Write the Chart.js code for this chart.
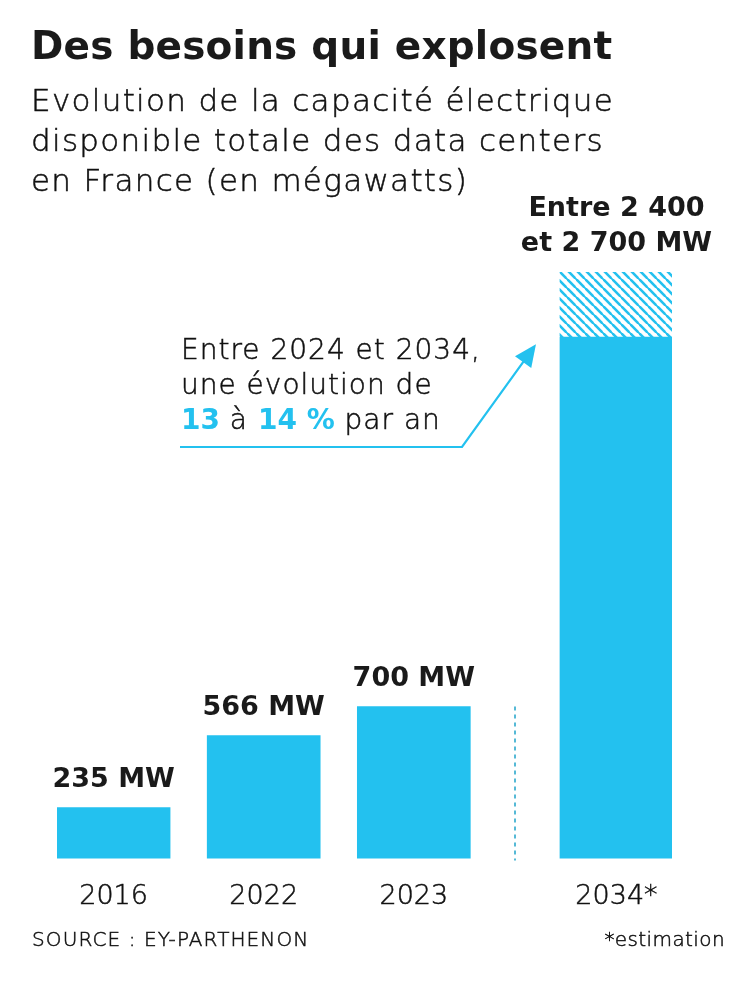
<!DOCTYPE html>
<html>
<head>
<meta charset="utf-8">
<script src="https://cdn.jsdelivr.net/npm/chart.js@4"></script>
<style>
  body { margin: 0; background: #fff; }
  #wrap { position: relative; width: 750px; height: 985px; overflow: hidden; }
  #myChart { position: absolute; left: 0; top: 0; }
  .txt { position: absolute; font-family: "DejaVu Sans", sans-serif; color: #1a1a1a; white-space: nowrap; }
  .fin { font-weight: 200; color: #111; -webkit-text-stroke: 0.5px #111; }
  #titre { left: 31px; top: 23px; font-size: 39px; font-weight: 700; letter-spacing: 0.2px; }
  #sous { left: 31px; top: 80px; font-size: 31px; line-height: 40px; letter-spacing: 1.3px; }
  #source { left: 32px; top: 927px; font-size: 20px; letter-spacing: 1.1px; }
  #estim { right: 25px; top: 927px; font-size: 20px; letter-spacing: 0.4px; }
</style>
</head>
<body>
<div id="wrap">
  <canvas id="myChart" width="750" height="985"></canvas>
  <div class="txt" id="titre">Des besoins qui explosent</div>
  <div class="txt fin" id="sous">Evolution de la capacité électrique<br>disponible totale des data centers<br>en France (en mégawatts)</div>
  <div class="txt fin" id="source">SOURCE : EY-PARTHENON</div>
  <div class="txt fin" id="estim">*estimation</div>
</div>
<script>
// donnees
const categories = ['2016', '2022', '2023', '2034*'];
const capacite = [235, 566, 700, 2400];
const estimationBasse = 2400;
const estimationHaute = 2700;
const etiquettes = [['235 MW'], ['566 MW'], ['700 MW'], ['Entre 2 400', 'et 2 700 MW']];
const annotationLignes = [
  [['Entre 2024 et 2034,', false]],
  [['une évolution de', false]],
  [['13', true], [' à ', false], ['14 %', true], [' par an', false]]
];

const bleu = '#23c1ef';
const indexEstimation = 3;   // la barre apres le separateur
const ecart = 0.35;          // espace en plus avant l'estimation

function position(i) {
  return i + (i >= indexEstimation ? ecart : 0);
}

// motif hachure pour la fourchette
function hachure() {
  const p = 9.5;
  const c = document.createElement('canvas');
  c.width = p; c.height = p;
  const g = c.getContext('2d');
  g.fillStyle = '#fff';
  g.fillRect(0, 0, p, p);
  g.strokeStyle = bleu;
  g.lineWidth = 2.6;
  for (let k = -1; k <= 1; k++) {
    g.beginPath();
    g.moveTo(-1, k * p - 1);
    g.lineTo(p + 1, p + k * p + 1);
    g.stroke();
  }
  const ctx = document.getElementById('myChart').getContext('2d');
  return ctx.createPattern(c, 'repeat');
}

const police = '"DejaVu Sans", sans-serif';

const decorPlugin = {
  id: 'decor',
  afterDatasetsDraw(chart) {
    const ctx = chart.ctx;
    const x = chart.scales.x;
    const y = chart.scales.y;
    const meta = chart.getDatasetMeta(0);

    // etiquettes de valeur
    ctx.save();
    ctx.fillStyle = '#1a1a1a';
    ctx.font = '700 27px ' + police;
    ctx.textAlign = 'center';
    ctx.textBaseline = 'alphabetic';
    etiquettes.forEach((lignes, i) => {
      const haut = i === indexEstimation ? y.getPixelForValue(estimationHaute) : meta.data[i].y;
      const cx = x.getPixelForValue(position(i));
      lignes.forEach((t, j) => {
        ctx.fillText(t, cx, haut - 21 - (lignes.length - 1 - j) * 35);
      });
    });
    ctx.restore();

    // separateur pointille
    const barre = meta.data[2];
    const sx = (barre.x + barre.width / 2 + meta.data[3].x - meta.data[3].width / 2) / 2;
    ctx.save();
    ctx.strokeStyle = '#55b9d6';
    ctx.lineWidth = 2;
    ctx.setLineDash([4, 4]);
    ctx.beginPath();
    ctx.moveTo(Math.round(sx), barre.y);
    ctx.lineTo(Math.round(sx), y.bottom + 2);
    ctx.stroke();
    ctx.restore();

    // annotation
    const ax = 181;
    const ay = 352;
    ctx.save();
    ctx.textBaseline = 'middle';
    annotationLignes.forEach((morceaux, j) => {
      let cx = ax;
      morceaux.forEach(([t, fort]) => {
        ctx.font = (fort ? '700 ' : '200 ') + '28px ' + police;
        ctx.letterSpacing = fort ? '0px' : '1px';
        ctx.fillStyle = fort ? bleu : '#111';
        ctx.fillText(t, cx, ay + j * 35);
        if (!fort) {
          ctx.strokeStyle = '#111';
          ctx.lineWidth = 0.5;
          ctx.strokeText(t, cx, ay + j * 35);
        }
        cx += ctx.measureText(t).width;
      });
    });
    ctx.restore();

    // fleche
    const bx = meta.data[3].x - meta.data[3].width / 2;
    const pointe = { x: bx - 24, y: y.getPixelForValue(estimationBasse) + 7 };
    const coude = { x: 462, y: 447 };
    ctx.save();
    ctx.strokeStyle = bleu;
    ctx.fillStyle = bleu;
    ctx.lineWidth = 2.2;
    const ang = Math.atan2(pointe.y - coude.y, pointe.x - coude.x);
    const L = 22;
    ctx.beginPath();
    ctx.moveTo(180, coude.y);
    ctx.lineTo(coude.x, coude.y);
    ctx.lineTo(pointe.x - Math.cos(ang) * (L - 4), pointe.y - Math.sin(ang) * (L - 4));
    ctx.stroke();
    ctx.beginPath();
    ctx.moveTo(pointe.x, pointe.y);
    ctx.lineTo(pointe.x - L * Math.cos(ang) + 10 * Math.sin(ang), pointe.y - L * Math.sin(ang) - 10 * Math.cos(ang));
    ctx.lineTo(pointe.x - L * Math.cos(ang) - 10 * Math.sin(ang), pointe.y - L * Math.sin(ang) + 10 * Math.cos(ang));
    ctx.closePath();
    ctx.fill();
    ctx.restore();
  }
};

const ctx = document.getElementById('myChart').getContext('2d');
new Chart(ctx, {
  type: 'bar',
  data: {
    datasets: [{
      label: 'Capacité',
      data: capacite.map((v, i) => ({ x: position(i), y: v })),
      backgroundColor: bleu,
      barThickness: 113,
      grouped: false,
      order: 1
    }, {
      label: 'Fourchette',
      data: [{ x: position(indexEstimation), y: [estimationBasse, estimationHaute] }],
      backgroundColor: hachure(),
      barThickness: 113,
      grouped: false,
      order: 2
    }]
  },
  options: {
    responsive: false,
    animation: false,
    layout: { padding: { top: 272, left: 57, right: 78, bottom: 50 } },
    plugins: { legend: { display: false }, tooltip: { enabled: false } },
    scales: {
      x: {
        type: 'linear',
        offset: false,
        min: -0.377,
        max: 3.72,
        grid: { display: false, drawTicks: false },
        border: { display: false },
        afterBuildTicks: s => { s.ticks = categories.map((c, i) => ({ value: position(i) })); },
        ticks: {
          autoSkip: false,
          maxRotation: 0,
          padding: 22,
          color: '#111',
          textStrokeColor: '#111',
          textStrokeWidth: 0.5,
          font: { family: police, size: 27, weight: 200 },
          callback: (v, i) => categories[i]
        }
      },
      y: {
        display: false,
        min: 0,
        max: estimationHaute
      }
    }
  },
  plugins: [decorPlugin]
});
</script>
</body>
</html>
